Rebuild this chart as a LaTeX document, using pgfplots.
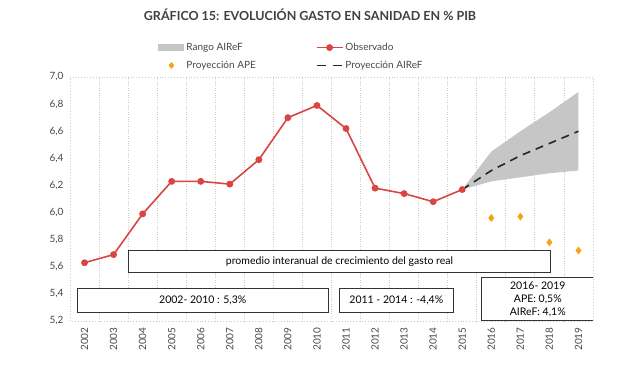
\documentclass[border=0pt]{standalone}
\usepackage{pgfplots}
\pgfplotsset{compat=1.18}
\usepackage{fontspec}
\setmainfont{Lato}
\definecolor{obsred}{RGB}{218,68,66}
\definecolor{apeorange}{RGB}{245,162,20}
\definecolor{rangegray}{RGB}{198,198,198}
\definecolor{titlegray}{RGB}{64,64,64}
\definecolor{textgray}{RGB}{70,70,70}
\definecolor{gridgray}{RGB}{200,200,200}
\begin{document}
\begin{tikzpicture}
\useasboundingbox (0,0) rectangle (620pt,368pt);
\node[font=\bfseries\fontsize{12.5}{14}\selectfont, text=titlegray] at (310pt,353pt) {GRÁFICO 15: EVOLUCIÓN GASTO EN SANIDAD EN \% PIB};
\begin{axis}[
  at={(70pt,47pt)}, anchor=south west,
  scale only axis, width=523pt, height=244pt,
  xmin=2001.5, xmax=2019.5, ymin=5.2, ymax=7.0,
  xtick={2002,...,2019},
  ytick={5.2,5.4,5.6,5.8,6.0,6.2,6.4,6.6,6.8,7.0},
  minor xtick={2002.5,2003.5,2004.5,2005.5,2006.5,2007.5,2008.5,2009.5,2010.5,2011.5,2012.5,2013.5,2014.5,2015.5,2016.5,2017.5,2018.5},
  xminorgrids,
  minor grid style={dotted, gridgray, line width=0.9pt},
  axis line style={dotted, gridgray, line width=0.9pt},
  major tick length=0pt, minor tick length=0pt,
  /pgf/number format/assume math mode=true,
  tick label style={font=\fontsize{10}{12}\selectfont, text=textgray},
  xticklabel style={rotate=90, anchor=east, yshift=0pt, xshift=-3pt, /pgf/number format/set thousands separator={}},
  yticklabel style={xshift=-3pt, /pgf/number format/.cd, fixed, fixed zerofill, precision=1, use comma},
  legend columns=2,
  legend cell align=left,
  legend style={draw=none, fill=none, at={(0.163,1.156)}, anchor=north west,
    font=\fontsize{10}{12}\selectfont, text=textgray,
    /tikz/every even column/.append style={column sep=58pt},
    row sep=5pt},
]
\addplot[fill=rangegray, draw=none,
  legend image code/.code={\fill[rangegray] (0pt,-3.5pt) rectangle (26pt,3.5pt);}]
  coordinates {(2015,6.17) (2016,6.45) (2017,6.60) (2018,6.74) (2019,6.89)
               (2019,6.31) (2018,6.29) (2017,6.26) (2016,6.23) (2015,6.17)};
\addlegendentry{Rango AIReF}
\addplot[obsred, line width=1.6pt, mark=*, mark size=2.6pt, mark options={solid, fill=obsred},
  legend image code/.code={\draw[obsred, line width=1.6pt] (0pt,0pt) -- (26pt,0pt); \fill[obsred] (13pt,0pt) circle (2.6pt);}]
  coordinates {(2002,5.63) (2003,5.69) (2004,5.99) (2005,6.23) (2006,6.23) (2007,6.21)
               (2008,6.39) (2009,6.70) (2010,6.79) (2011,6.62) (2012,6.18) (2013,6.14)
               (2014,6.08) (2015,6.17)};
\addlegendentry{Observado}
\addplot[only marks, mark=diamond*, mark size=3.6pt, mark options={fill=apeorange, draw=apeorange},
  legend image code/.code={\fill[apeorange] (13pt,-3pt) -- (15.5pt,0pt) -- (13pt,3pt) -- (10.5pt,0pt) -- cycle;}]
  coordinates {(2016,5.96) (2017,5.97) (2018,5.78) (2019,5.72)};
\addlegendentry{Proyección APE}
\addplot[black!85, line width=1.6pt, dash pattern=on 8pt off 6pt,
  legend image code/.code={\draw[black!85, line width=1.6pt, dash pattern=on 9pt off 7pt] (0pt,0pt) -- (26pt,0pt);}]
  coordinates {(2015,6.17) (2016,6.31) (2017,6.42) (2018,6.51) (2019,6.60)};
\addlegendentry{Proyección AIReF}
\draw[black!80, fill=white, line width=0.8pt] (axis cs:2003.5,5.72) rectangle (axis cs:2018.05,5.56)
  node[midway, text=black, font=\fontsize{10.5}{12}\selectfont] {promedio interanual de crecimiento del gasto real};
\draw[black!80, fill=white, line width=0.8pt] (axis cs:2001.76,5.44) rectangle (axis cs:2010.38,5.26)
  node[midway, text=black, font=\fontsize{10.5}{12}\selectfont] {2002- 2010 : 5,3\%};
\draw[black!80, fill=white, line width=0.8pt] (axis cs:2010.76,5.44) rectangle (axis cs:2014.7,5.26)
  node[midway, text=black, font=\fontsize{10.5}{12}\selectfont] {2011 - 2014 : -4,4\%};
\draw[black!80, fill=white, line width=0.8pt] (axis cs:2015.65,5.52) rectangle (axis cs:2019.55,5.205)
  node[midway, text=black, align=center, font=\fontsize{10.5}{13}\selectfont] {2016- 2019\\APE: 0,5\%\\AIReF: 4,1\%};
\end{axis}
\end{tikzpicture}
\end{document}
